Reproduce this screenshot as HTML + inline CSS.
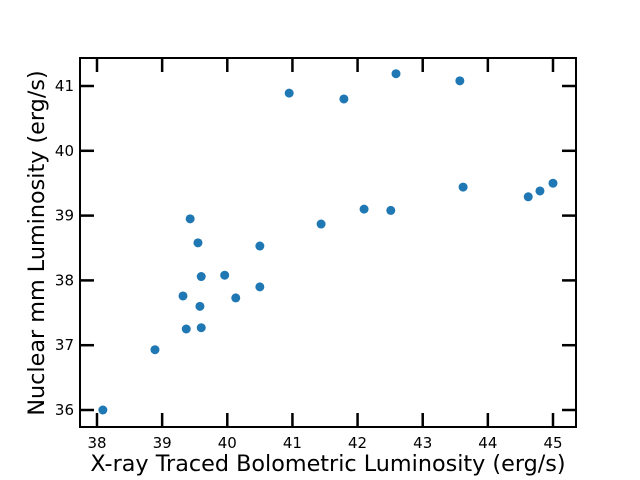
<!DOCTYPE html>
<html><head><meta charset="utf-8"><style>body{margin:0;background:#fff}svg{display:block}</style></head>
<body>
<svg id="c" width="640" height="480" font-family="DejaVu Sans, sans-serif"></svg>
<script>
const xVals=[38.09,38.89,39.37,39.60,39.32,39.58,39.60,39.96,40.13,40.50,40.50,39.55,39.43,40.95,41.44,41.79,42.10,42.51,42.59,43.57,43.62,44.62,44.80,45.00];
const yVals=[36.0,36.93,37.25,37.27,37.76,37.60,38.06,38.08,37.73,37.90,38.53,38.58,38.95,40.89,38.87,40.80,39.10,39.08,41.19,41.08,39.44,39.29,39.38,39.50];
const xTicks=[38,39,40,41,42,43,44,45];
const yTicks=[36,37,38,39,40,41];
const L=80,R=576,T=58,B=427;
const sx=v=>97+(v-38)*(553-97)/7;
const sy=v=>410-(v-36)*(410-86)/5;
const svg=document.getElementById('c');const NS='http://www.w3.org/2000/svg';
function mk(t,a,p){const e=document.createElementNS(NS,t);for(const k in a)e.setAttribute(k,a[k]);(p||svg).appendChild(e);return e;}
xVals.forEach((x,i)=>{const c=mk('circle',{cx:sx(x),cy:sy(yVals[i]),r:4.5,fill:'#1f77b4'});

});
xTicks.forEach(v=>{const x=sx(v);
let a=mk('line',{x1:x,x2:x,y1:B,y2:B-14,stroke:'#000','stroke-width':2.5});
let b=mk('line',{x1:x,x2:x,y1:T,y2:T+14,stroke:'#000','stroke-width':2.5});
let t=mk('text',{x:x,y:B+21,'text-anchor':'middle','font-size':15});t.textContent=v;});
yTicks.forEach(v=>{const y=sy(v);
let a=mk('line',{x1:L,x2:L+14,y1:y,y2:y,stroke:'#000','stroke-width':2.5});
let b=mk('line',{x1:R,x2:R-14,y1:y,y2:y,stroke:'#000','stroke-width':2.5});
let t=mk('text',{x:L-6,y:y+5,'text-anchor':'end','font-size':15});t.textContent=v;});
const f=mk('rect',{x:L,y:T,width:R-L,height:B-T,fill:'none',stroke:'#000','stroke-width':2});

const xt=mk('text',{x:328,y:471,'text-anchor':'middle','font-size':22.3});xt.textContent='X-ray Traced Bolometric Luminosity (erg/s)';

const yt=mk('text',{x:0,y:0,'text-anchor':'middle','font-size':22.3,transform:'translate(44,243) rotate(-90)'});yt.textContent='Nuclear mm Luminosity (erg/s)';

</script>
</body></html>
